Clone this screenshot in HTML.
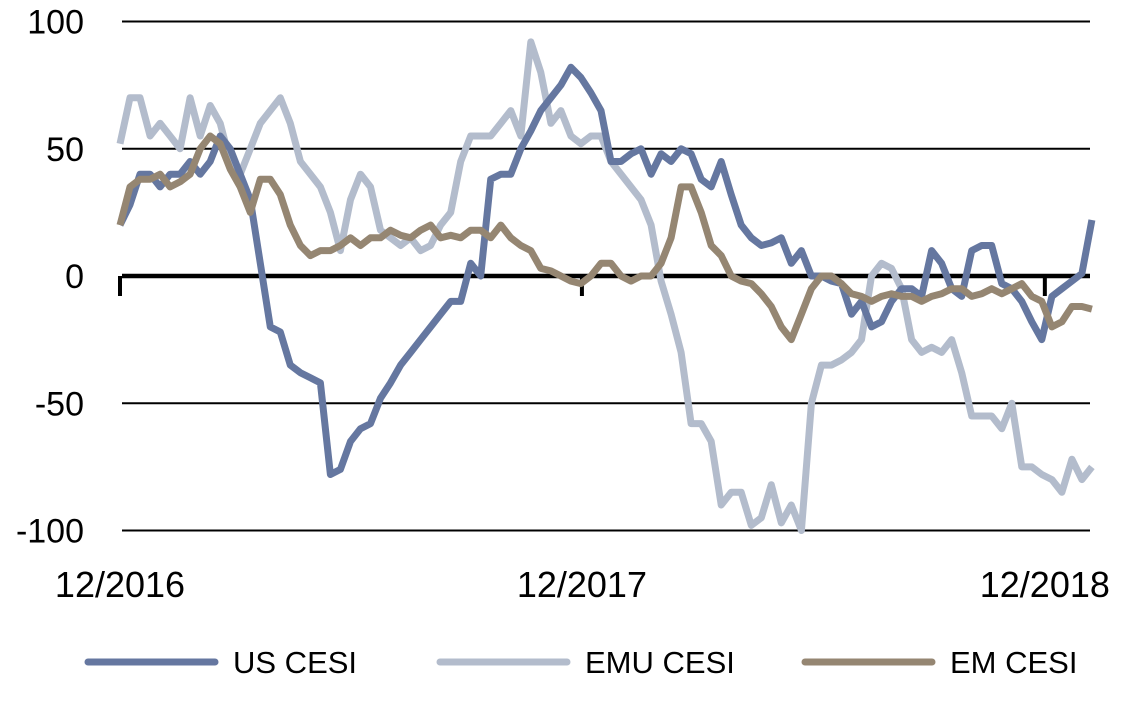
<!DOCTYPE html>
<html><head><meta charset="utf-8"><style>
body{margin:0;background:#fff;font-family:"Liberation Sans",sans-serif}
svg text{font-family:"Liberation Sans",sans-serif}
</style></head><body>
<svg id="c" width="1147" height="696" xmlns="http://www.w3.org/2000/svg"></svg>
<script>
const xTickLabels=["12/2016","12/2017","12/2018"];
const xTickIdx=[0,46.1,92.3];
const yTicks=[100,50,0,-50,-100];
const usCesi=[20,28,40,40,35,40,40,45,40,45,55,50,40,30,5,-20,-22,-35,-38,-40,-42,-78,-76,-65,-60,-58,-48,-42,-35,-30,-25,-20,-15,-10,-10,5,0,38,40,40,50,57,65,70,75,82,78,72,65,45,45,48,50,40,48,45,50,48,38,35,45,32,20,15,12,13,15,5,10,0,0,-2,-3,-15,-10,-20,-18,-10,-5,-5,-8,10,5,-5,-8,10,12,12,-3,-5,-10,-18,-25,-8,-5,-2,1,22];
const emuCesi=[52,70,70,55,60,55,50,70,55,67,60,45,40,50,60,65,70,60,45,40,35,25,10,30,40,35,18,15,12,15,10,12,20,25,45,55,55,55,60,65,55,92,80,60,65,55,52,55,55,45,40,35,30,20,-2,-15,-30,-58,-58,-65,-90,-85,-85,-98,-95,-82,-97,-90,-100,-50,-35,-35,-33,-30,-25,0,5,3,-5,-25,-30,-28,-30,-25,-38,-55,-55,-55,-60,-50,-75,-75,-78,-80,-85,-72,-80,-75];
const emCesi=[20,35,38,38,40,35,37,40,50,55,52,42,35,25,38,38,32,20,12,8,10,10,12,15,12,15,15,18,16,15,18,20,15,16,15,18,18,15,20,15,12,10,3,2,0,-2,-3,0,5,5,0,-2,0,0,5,15,35,35,25,12,8,0,-2,-3,-7,-12,-20,-25,-15,-5,0,0,-3,-7,-8,-10,-8,-7,-8,-8,-10,-8,-7,-5,-5,-8,-7,-5,-7,-5,-3,-8,-10,-20,-18,-12,-12,-13];
const seriesNames=["US CESI","EMU CESI","EM CESI"];
const NS="http://www.w3.org/2000/svg";
const svg=document.getElementById('c');
const X=i=>120+i*10.02;
const Y=v=>276-v*2.545;
function mk(t,a){const e=document.createElementNS(NS,t);for(const k in a)e.setAttribute(k,a[k]);svg.appendChild(e);return e;}
yTicks.forEach(v=>{
  const l=mk('line',{x1:122,x2:1090,y1:Y(v),y2:Y(v),stroke:'#000','stroke-width':v===0?4.5:2});
  
  
  const t=mk('text',{x:84,y:Y(v)+12,'text-anchor':'end','font-size':34,fill:'#000'});
  t.textContent=v;
  
  
});
xTickIdx.forEach((i,k)=>{
  const l=mk('line',{x1:X(i),x2:X(i),y1:276,y2:296,stroke:'#000','stroke-width':4});
  
  
  const t=mk('text',{x:X(i),y:597,'text-anchor':'middle','font-size':36,fill:'#000'});
  t.textContent=xTickLabels[k];
  
  
});
const cols=["#6577a0","#b3bccc","#958672"];
const data=[usCesi,emuCesi,emCesi];
[1,0,2].forEach(s=>{
  const d=data[s].map((v,i)=>(i?'L':'M')+X(i).toFixed(1)+','+Y(v).toFixed(1)).join('');
  const p=mk('path',{d:d,fill:'none',stroke:cols[s],'stroke-width':7,'stroke-linejoin':'round'});
  
  
});
const lx=[88,440,805];
seriesNames.forEach((n,s)=>{
  const l=mk('line',{x1:lx[s],x2:lx[s]+127,y1:662,y2:662,stroke:cols[s],'stroke-width':7,'stroke-linecap':'round'});
  
  
  const t=mk('text',{x:lx[s]+145,y:673,'font-size':31,fill:'#000'});
  t.textContent=n;
  
  
});
</script>
</body></html>
